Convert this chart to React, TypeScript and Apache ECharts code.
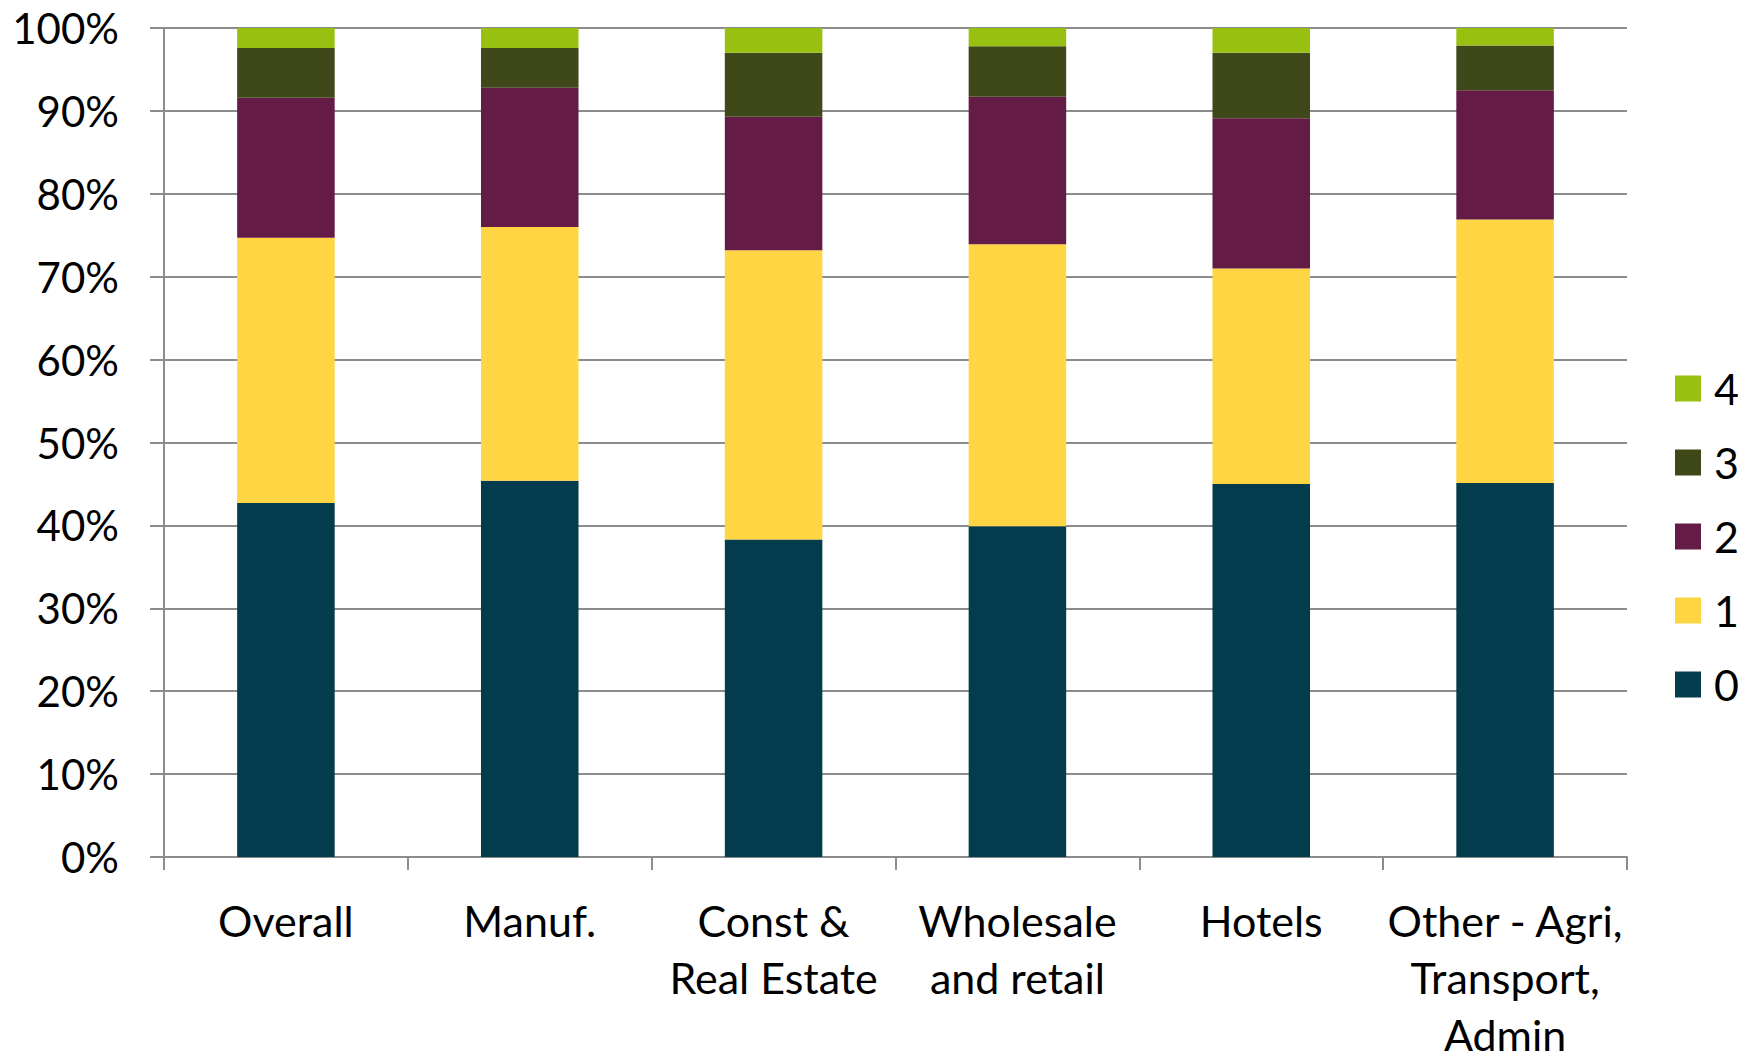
import React, { useEffect, useRef } from "react";
import * as echarts from "echarts";

const categories = [
  "Overall",
  "Manuf.",
  "Const &\nReal Estate",
  "Wholesale\nand retail",
  "Hotels",
  "Other - Agri,\nTransport,\nAdmin",
];
const seriesNames = ["0", "1", "2", "3", "4"];
const s0 = [42.7, 45.4, 38.3, 39.9, 45.0, 45.1];
const s1 = [32.0, 30.6, 34.9, 34.0, 26.0, 31.8];
const s2 = [16.9, 16.8, 16.1, 17.8, 18.1, 15.6];
const s3 = [6.0, 4.8, 7.7, 6.1, 7.9, 5.4];
const s4 = [2.4, 2.4, 3.0, 2.2, 3.0, 2.1];
const seriesValues = [s0, s1, s2, s3, s4];
const colors = ["#033C4C", "#FFD544", "#641B45", "#3E4818", "#98C010"];

const FONT = "Lato";

export default function App() {
  const ref = useRef<HTMLDivElement>(null);
  useEffect(() => {
    if (!ref.current) return;
    const chart = echarts.init(ref.current, null, { renderer: "svg" });
    chart.setOption({
      animation: false,
      backgroundColor: "#ffffff",
      grid: { left: 164, right: 125, top: 28, bottom: 198, containLabel: false },
      legend: {
        orient: "vertical",
        left: 1670,
        top: 362,
        itemWidth: 26,
        itemHeight: 26,
        itemGap: 31,
        icon: "rect",
        data: ["4", "3", "2", "1", "0"],
        textStyle: {
          fontFamily: FONT,
          fontSize: 43,
          color: "#000",
          lineHeight: 26,
          padding: [0, 0, 0, 8],
        },
      },
      xAxis: {
        type: "category",
        data: categories,
        axisLine: { lineStyle: { color: "#8c8c8c", width: 2 } },
        axisTick: { show: true, length: 13, lineStyle: { color: "#8c8c8c", width: 2 } },
        axisLabel: {
          fontFamily: FONT,
          fontSize: 43,
          color: "#000",
          lineHeight: 57,
          margin: 35,
          interval: 0,
        },
      },
      yAxis: {
        type: "value",
        min: 0,
        max: 100,
        interval: 10,
        axisLine: { show: true, lineStyle: { color: "#8c8c8c", width: 2 } },
        axisTick: { show: true, length: 14, lineStyle: { color: "#8c8c8c", width: 2 } },
        splitLine: { show: true, lineStyle: { color: "#8c8c8c", width: 2 } },
        axisLabel: {
          formatter: "{value}%",
          fontFamily: FONT,
          fontSize: 42,
          color: "#000",
          margin: 45,
        },
      },
      series: seriesNames.map((name, i) => ({
        name,
        type: "bar",
        stack: "total",
        barWidth: "40%",
        data: seriesValues[i],
        itemStyle: { color: colors[i] },
      })),
    });
    return () => chart.dispose();
  }, []);
  return (
    <div
      ref={ref}
      style={{ position: "fixed", left: 0, top: 0, width: 1752, height: 1063 }}
    />
  );
}
